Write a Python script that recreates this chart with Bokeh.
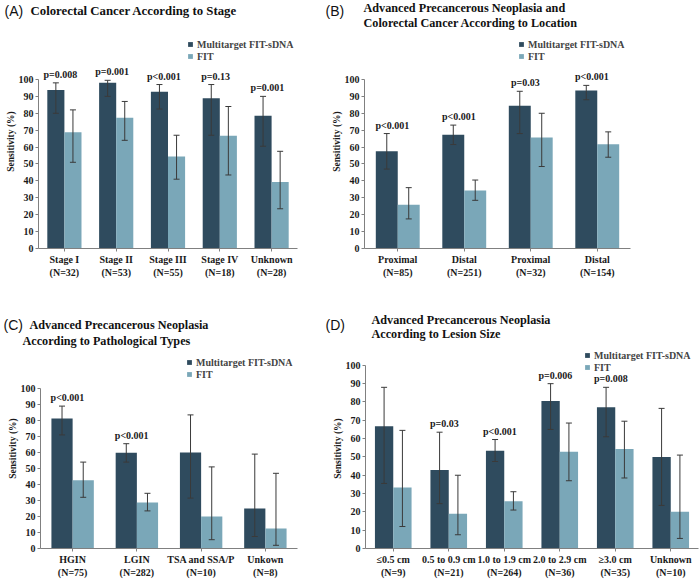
from bokeh.plotting import figure
from bokeh.models import (ColumnDataSource, Whisker, TeeHead, FixedTicker, Label,
                          Legend, LegendItem, Range1d, FactorRange)
from bokeh.transform import dodge
from bokeh.layouts import row, column
from bokeh.core.properties import value
from bokeh.embed import file_html
from bokeh.resources import INLINE

DARK = "#2f4b5e"
LIGHT = "#7aa7b8"
SERIF = "Liberation Serif"
SANS = "Liberation Sans"

# ---------------- data ----------------
a_cats = ["Stage I\n(N=32)", "Stage II\n(N=53)", "Stage III\n(N=55)", "Stage IV\n(N=18)", "Unknown\n(N=28)"]
a_mt = [93.8, 98.1, 92.7, 88.9, 78.6]
a_mt_lo = [80.0, 90.0, 82.5, 67.0, 60.5]
a_mt_hi = [98.0, 99.5, 97.0, 97.0, 90.0]
a_fit = [68.8, 77.4, 54.5, 66.7, 39.3]
a_fit_lo = [51.0, 64.0, 41.0, 43.5, 23.5]
a_fit_hi = [82.0, 87.0, 67.0, 84.0, 57.5]
a_p = ["p=0.008", "p=0.001", "p<0.001", "p=0.13", "p=0.001"]

b_cats = ["Proximal\n(N=85)", "Distal\n(N=251)", "Proximal\n(N=32)", "Distal\n(N=154)"]
b_mt = [57.6, 67.3, 84.4, 93.5]
b_mt_lo = [47.0, 61.5, 68.0, 88.0]
b_mt_hi = [68.0, 73.0, 93.0, 96.5]
b_fit = [25.9, 34.3, 65.6, 61.7]
b_fit_lo = [17.5, 28.5, 48.5, 54.0]
b_fit_hi = [36.0, 40.5, 80.0, 69.0]
b_p = ["p<0.001", "p<0.001", "p=0.03", "p<0.001"]

c_cats = ["HGIN\n(N=75)", "LGIN\n(N=282)", "TSA and SSA/P\n(N=10)", "Unkown\n(N=8)"]
c_mt = [81.3, 59.9, 60.0, 25.0]
c_mt_lo = [71.0, 54.0, 31.5, 7.5]
c_mt_hi = [89.0, 65.5, 83.5, 59.0]
c_fit = [42.7, 28.7, 20.0, 12.5]
c_fit_lo = [32.0, 23.5, 5.5, 2.0]
c_fit_hi = [54.0, 34.5, 51.0, 47.0]
c_p = ["p<0.001", "p<0.001", "", ""]

d_cats = ["≤0.5 cm\n(N=9)", "0.5 to 0.9 cm\n(N=21)", "1.0 to 1.9 cm\n(N=264)",
          "2.0 to 2.9 cm\n(N=36)", "≥3.0 cm\n(N=35)", "Unknown\n(N=10)"]
d_mt = [66.7, 42.9, 53.4, 80.6, 77.1, 50.0]
d_mt_lo = [35.5, 24.5, 47.5, 65.0, 61.0, 23.5]
d_mt_hi = [88.0, 63.5, 59.5, 90.0, 88.0, 76.5]
d_fit = [33.3, 19.0, 25.8, 52.8, 54.3, 20.0]
d_fit_lo = [12.0, 7.5, 21.0, 37.0, 38.5, 5.5]
d_fit_hi = [64.5, 40.0, 31.0, 68.5, 69.5, 51.0]
d_p = ["", "p=0.03", "p<0.001", "p=0.006", "p=0.008", ""]

legend_labels = ["Multitarget FIT-sDNA", "FIT"]
y_ticks = list(range(0, 101, 10))

title_top = [("(A)", 4, 10, SANS, "14px", "normal"),
             ("Colorectal  Cancer According  to Stage", 30, 10, SERIF, "12.8px", "bold"),
             ("(B)", 325, 10, SANS, "14px", "normal"),
             ("Advanced  Precancerous  Neoplasia  and", 363, 7, SERIF, "12.2px", "bold"),
             ("Colorectal  Cancer According  to Location", 363, 22, SERIF, "12.2px", "bold")]
title_bottom = [("(C)", 3, 34, SANS, "14px", "normal"),
                ("Advanced  Precancerous  Neoplasia", 29, 34, SERIF, "12.2px", "bold"),
                ("According  to Pathological  Types", 22, 50, SERIF, "12.2px", "bold"),
                ("(D)", 325, 34, SANS, "14px", "normal"),
                ("Advanced  Precancerous  Neoplasia", 371, 29, SERIF, "12.2px", "bold"),
                ("According  to Lesion Size", 371, 43, SERIF, "12.2px", "bold")]


def strip(width, height, labels):
    s = figure(width=width, height=height, x_range=Range1d(0, width), y_range=Range1d(height, 0),
               output_backend="svg", toolbar_location=None, x_axis_type=None, y_axis_type=None,
               min_border=0)
    s.outline_line_color = None
    s.grid.visible = False
    for (txt, x, y, font, size, style) in labels:
        s.add_layout(Label(x=x, y=y, text=txt, text_font=font, text_font_size=size,
                           text_font_style=style, text_baseline="middle", text_align="left",
                           text_color="#111111"))
    return s


def make_panel(cats, mt, mt_lo, mt_hi, fit, fit_lo, fit_hi, pv,
               width, height, bl, br, bb, ymax, fl, fb, legend_topleft):
    src = ColumnDataSource(dict(cat=cats, mt=mt, mt_lo=mt_lo, mt_hi=mt_hi,
                                fit=fit, fit_lo=fit_lo, fit_hi=fit_hi, pv=pv))
    p = figure(x_range=FactorRange(factors=cats), y_range=Range1d(0, ymax),
               width=width, height=height, output_backend="svg", toolbar_location=None,
               min_border_left=bl, min_border_right=br, min_border_bottom=bb, min_border_top=0)
    p.outline_line_color = None
    p.xgrid.visible = False
    p.ygrid.visible = False

    r1 = p.vbar(x=dodge("cat", -0.165, range=p.x_range), top="mt", width=0.33,
                source=src, fill_color=DARK, line_color=None)
    r2 = p.vbar(x=dodge("cat", 0.165, range=p.x_range), top="fit", width=0.33,
                source=src, fill_color=LIGHT, line_color=None)
    for off, lo, hi in [(-0.165, "mt_lo", "mt_hi"), (0.165, "fit_lo", "fit_hi")]:
        w = Whisker(source=src, base=dodge("cat", off, range=p.x_range), upper=hi, lower=lo,
                    line_color="#3a3a3a", line_width=1, level="overlay",
                    upper_head=TeeHead(size=6, line_color="#3a3a3a", line_width=1),
                    lower_head=TeeHead(size=6, line_color="#3a3a3a", line_width=1))
        p.add_layout(w)

    p.text(x=dodge("cat", -0.08, range=p.x_range), y="mt_hi", text="pv", source=src,
           text_align="center", text_baseline="bottom", y_offset=-3,
           text_font=value(SERIF), text_font_style="bold", text_font_size="10px",
           text_color="#1a1a1a")

    p.yaxis.ticker = FixedTicker(ticks=y_ticks)
    p.yaxis.bounds = (0, 100)
    p.yaxis.minor_tick_line_color = None
    p.yaxis.major_tick_out = 3
    p.yaxis.major_tick_in = 0
    p.yaxis.major_label_standoff = 2
    p.yaxis.axis_label = "Sensitivity (%)"
    p.yaxis.axis_label_standoff = 0
    p.yaxis.axis_label_text_font = SERIF
    p.yaxis.axis_label_text_font_style = "bold"
    p.yaxis.axis_label_text_font_size = "9.5px"
    p.yaxis.axis_label_text_color = "#1a1a1a"
    for ax in (p.xaxis, p.yaxis):
        ax.axis_line_color = "#808080"
        ax.major_tick_line_color = "#808080"
        ax.major_label_text_font = SERIF
        ax.major_label_text_font_style = "bold"
        ax.major_label_text_font_size = "10px"
        ax.major_label_text_color = "#1a1a1a"
    p.xaxis.major_tick_out = 3
    p.xaxis.major_tick_in = 0
    p.xaxis.major_label_standoff = 2
    p.xaxis.major_label_orientation = "horizontal"

    lx, ly = legend_topleft
    leg = Legend(items=[LegendItem(label=legend_labels[0], renderers=[r1]),
                        LegendItem(label=legend_labels[1], renderers=[r2])],
                 location=(lx - fl, fb - (ly + 24)), background_fill_alpha=0,
                 border_line_color=None, glyph_width=6, glyph_height=6,
                 label_text_font=SERIF, label_text_font_style="bold",
                 label_text_font_size="10px", label_height=12, label_standoff=4,
                 spacing=0, padding=0, margin=0)
    p.add_layout(leg)
    return p


top_strip = strip(700, 34, title_top)
pa = make_panel(a_cats, a_mt, a_mt_lo, a_mt_hi, a_fit, a_fit_lo, a_fit_hi, a_p,
                326, 256, 38, 29, 42, 126.6, 38, 248, (187, 38))
pb = make_panel(b_cats, b_mt, b_mt_lo, b_mt_hi, b_fit, b_fit_lo, b_fit_hi, b_p,
                374, 256, 38, 70, 42, 126.6, 364, 248, (518, 38))
bottom_strip = strip(700, 58, title_bottom)
pc = make_panel(c_cats, c_mt, c_mt_lo, c_mt_hi, c_fit, c_fit_lo, c_fit_hi, c_p,
                326, 232, 40, 29, 32, 125.0, 40, 548, (186, 356))
pd_ = make_panel(d_cats, d_mt, d_mt_lo, d_mt_hi, d_fit, d_fit_lo, d_fit_hi, d_p,
                 374, 232, 39, 2, 30, 109.2, 365, 550, (584, 351))

layout = column(top_strip, row(pa, pb), bottom_strip, row(pc, pd_))
open("out.html", "w").write(file_html(layout, INLINE))
